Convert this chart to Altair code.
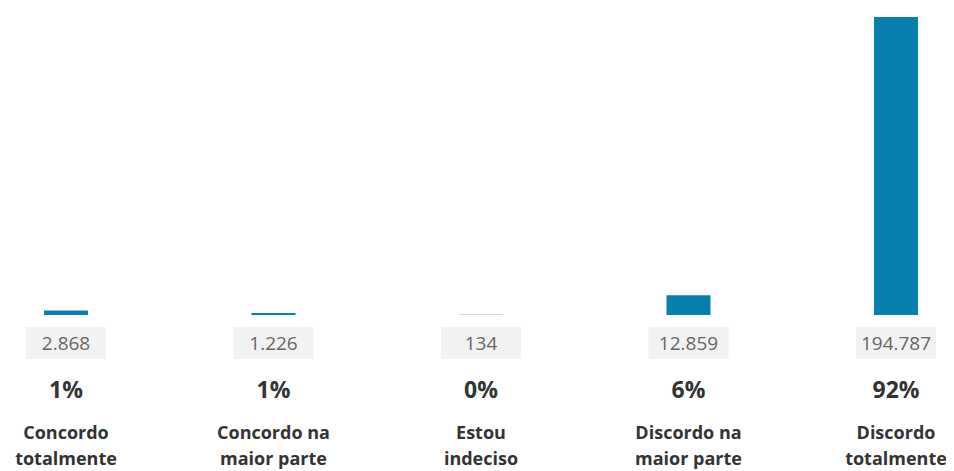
import altair as alt
import pandas as pd

categories_line1 = ["Concordo", "Concordo na", "Estou", "Discordo na", "Discordo"]
categories_line2 = ["totalmente", "maior parte", "indeciso", "maior parte", "totalmente"]
counts = [2868, 1226, 134, 12859, 194787]
count_labels = ["2.868", "1.226", "134", "12.859", "194.787"]
percent_labels = ["1%", "1%", "0%", "6%", "92%"]

df = pd.DataFrame({
    "i": list(range(len(counts))),
    "count": counts,
    "count_label": count_labels,
    "pct": percent_labels,
    "cat1": categories_line1,
    "cat2": categories_line2,
})

W, H = 938, 463
xscale = alt.Scale(domain=[-0.2795, 4.241], nice=False, zero=False)
xaxis = None

base = alt.Chart(df).transform_calculate(
    b0="datum.i - 0.106", b1="datum.i + 0.106",
    r0="datum.i - 0.193", r1="datum.i + 0.193",
)

bars = base.mark_rect(color="#0780ad").encode(
    x=alt.X("b0:Q", scale=xscale, axis=xaxis),
    x2="b1:Q",
    y=alt.Y("count:Q", scale=alt.Scale(domain=[0, 194787], range=[307, 9], nice=False), axis=None),
    y2=alt.datum(0),
)

boxes = base.mark_rect(color="#f2f2f2").encode(
    x=alt.X("r0:Q", scale=xscale, axis=xaxis),
    x2="r1:Q",
    y=alt.value(319),
    y2=alt.value(351),
)

vals = base.mark_text(font="Open Sans", fontSize=19, color="#666666", baseline="middle").encode(
    x=alt.X("i:Q", scale=xscale, axis=xaxis),
    y=alt.value(336),
    text="count_label:N",
)

pcts = base.mark_text(font="Open Sans", fontSize=23, fontWeight="bold", color="#333333", baseline="middle").encode(
    x=alt.X("i:Q", scale=xscale, axis=xaxis),
    y=alt.value(383),
    text="pct:N",
)

cat1 = base.mark_text(font="Open Sans", fontSize=18, fontWeight="bold", color="#333333", baseline="middle").encode(
    x=alt.X("i:Q", scale=xscale, axis=xaxis),
    y=alt.value(426),
    text="cat1:N",
)

cat2 = base.mark_text(font="Open Sans", fontSize=18, fontWeight="bold", color="#333333", baseline="middle").encode(
    x=alt.X("i:Q", scale=xscale, axis=xaxis),
    y=alt.value(452),
    text="cat2:N",
)

chart = alt.layer(bars, boxes, vals, pcts, cat1, cat2).properties(
    width=W, height=H,
    autosize=alt.AutoSizeParams(type="none"),
    padding=0,
).configure_view(stroke=None)

chart.save("out.html", embed_options={"renderer": "svg", "actions": False})
